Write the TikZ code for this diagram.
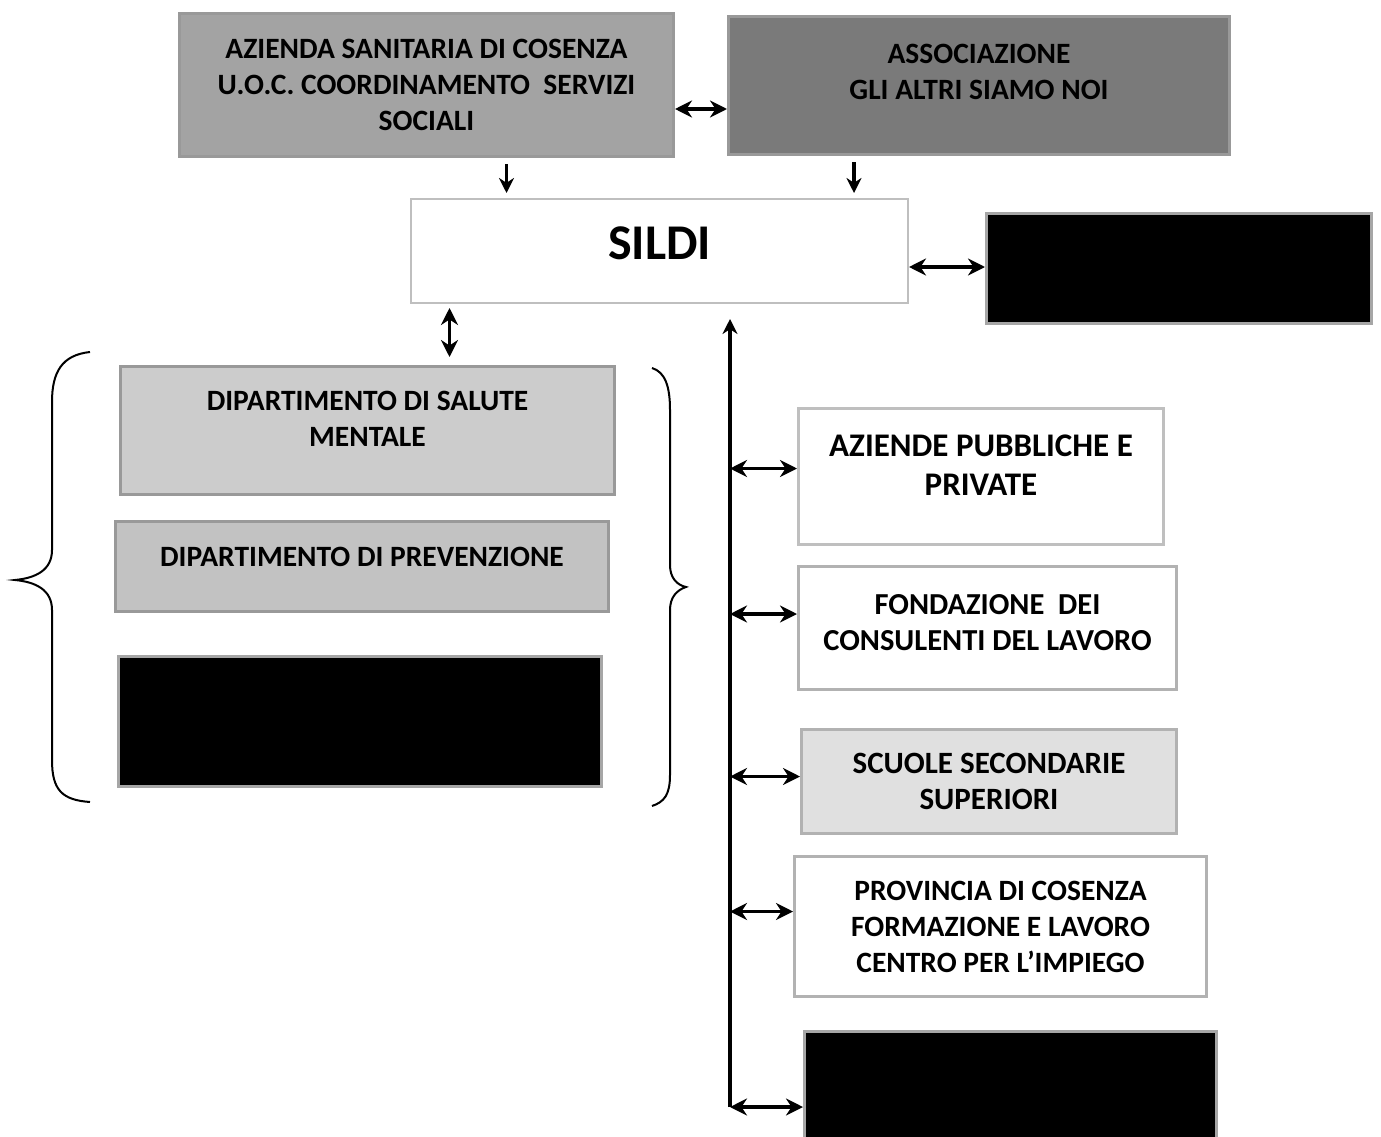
\documentclass[tikz,border=0pt]{standalone}
\usepackage{fontspec}
\setmainfont{Carlito}
\usetikzlibrary{arrows.meta}
\tikzset{
every picture/.style={
line width=1pt
}}

\begin{document}
\begin{tikzpicture}[x=1pt, y=-1pt,
box/.style = {rectangle, draw=black!40, line width=3pt, align=center, anchor=north west, inner sep=0pt, font=\bfseries\fontsize{29.5}{36}\selectfont},
hidden/.style = {box, fill=black, draw=black!35},
link/.style = {line width=3.5pt, {Stealth[length=17pt,width=17pt]}-{Stealth[length=17pt,width=17pt]}},
onelink/.style = {line width=3.5pt, -{Stealth[length=15pt,width=15pt]}},
brace/.style = {line width=2pt}]

\useasboundingbox (0,0) rectangle (1381,1137);

% top row
\node[box, fill=black!36, minimum width=494pt, minimum height=143pt] (asl) at (178,12)
  {AZIENDA SANITARIA DI COSENZA\\U.O.C. COORDINAMENTO\ \ SERVIZI\\SOCIALI};
\node[box, fill=black!52, minimum width=501pt, minimum height=138pt] (assoc) at (727,15)
  {ASSOCIAZIONE\\GLI ALTRI SIAMO NOI\\[-8pt]};

\node[box, fill=white, draw=black!25, line width=2pt, minimum width=497pt, minimum height=104pt,
  font=\bfseries\fontsize{50}{56}\selectfont] (sildi) at (410,198) {SILDI\\[-40pt]};
\node[hidden, minimum width=385pt, minimum height=110pt] (extra) at (985,212) {};

% left group
\node[box, fill=black!20, minimum width=494pt, minimum height=128pt] (dsm) at (119,365)
  {DIPARTIMENTO DI SALUTE\\MENTALE\\[-13pt]};
\node[box, fill=black!24, minimum width=493pt, minimum height=90pt] (prev) at (114,520)
  {DIPARTIMENTO DI PREVENZIONE\\[-16pt]};
\node[hidden, minimum width=483pt, minimum height=130pt] (leftblack) at (117,655) {};

\draw[brace] (90,352) .. controls (62,355) and (52,372) .. (52,402) -- (52,550)
  .. controls (52,570) and (36,578) .. (15,580) .. controls (36,582) and (52,590) .. (52,610)
  -- (52,760) .. controls (52,790) and (62,800) .. (90,802);
\draw[brace] (652,368) .. controls (665,372) and (670,386) .. (670,410) -- (670,565)
  .. controls (670,578) and (677,585) .. (686,587) .. controls (677,590) and (670,597) .. (670,610)
  -- (670,775) .. controls (670,795) and (664,802) .. (652,806);

% right column
\node[box, fill=white, draw=black!25, minimum width=365pt, minimum height=136pt,
  font=\bfseries\fontsize{33}{39}\selectfont] (aziende) at (797,407)
  {AZIENDE PUBBLICHE E\\PRIVATE\\[-16pt]};
\node[box, fill=white, draw=black!30, minimum width=378pt, minimum height=123pt,
  font=\bfseries\fontsize{30.5}{36}\selectfont] (fond) at (797,565)
  {FONDAZIONE\ \ DEI\\CONSULENTI DEL LAVORO\\[-24pt]};
\node[box, fill=black!12, draw=black!30, minimum width=375pt, minimum height=104pt,
  font=\bfseries\fontsize{31}{36}\selectfont] (scuole) at (800,728)
  {SCUOLE SECONDARIE\\SUPERIORI};
\node[box, fill=white, draw=black!30, minimum width=412pt, minimum height=140pt] (prov) at (793,855)
  {PROVINCIA DI COSENZA\\FORMAZIONE E LAVORO\\CENTRO PER L’IMPIEGO};
\node[hidden, minimum width=412pt, minimum height=107pt] (rightblack) at (803,1030) {};

\coordinate (bus) at (730,1107);

% connectors
\draw[link] ([yshift=-24pt]asl.east) -- ([yshift=-24pt]asl.east -| assoc.west);
\draw[onelink, shorten <=6pt, shorten >=5pt] ([xshift=80pt]asl.south) -- ([xshift=80pt]asl.south |- sildi.north);
\draw[onelink, shorten <=6pt, shorten >=5pt] ([xshift=-125pt]assoc.south) -- ([xshift=-125pt]assoc.south |- sildi.north);
\draw[link] ([yshift=-16pt]sildi.east) -- ([yshift=-16pt]sildi.east -| extra.west);
\draw[link, shorten <=4pt, shorten >=8pt] ([xshift=-210pt]sildi.south) -- ([xshift=-210pt]sildi.south |- dsm.north);
\draw[onelink, shorten >=15pt] (bus) -- (bus |- sildi.south);
\foreach \n/\s in {aziende/8, fond/14, scuole/5, prov/15, rightblack/-22}
  \draw[link] ([yshift=\s pt]\n.west -| bus) -- ([yshift=\s pt]\n.west);

\end{tikzpicture}
\end{document}
